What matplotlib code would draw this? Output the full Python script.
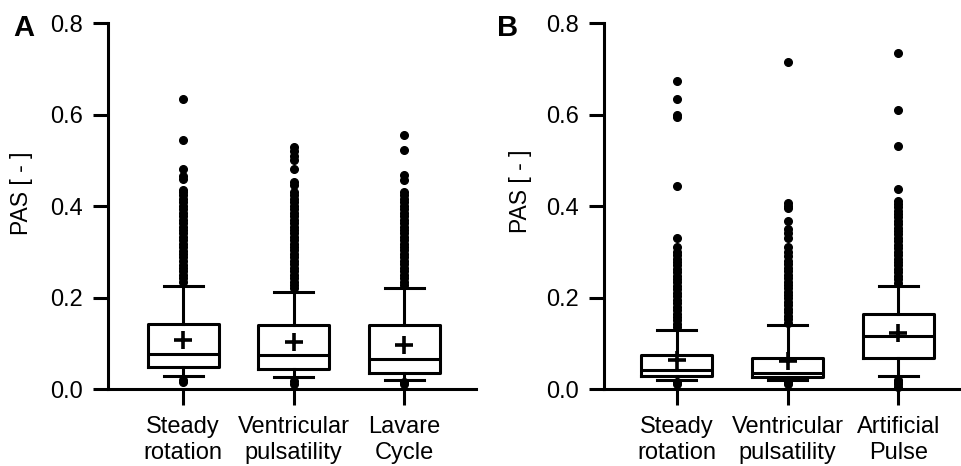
import numpy as np
import matplotlib
matplotlib.use('Agg')
import matplotlib.pyplot as plt

plt.rcParams['font.family'] = ['Liberation Sans', 'DejaVu Sans']

# panel A: box statistics
labels_a = ['Steady\nrotation', 'Ventricular\npulsatility', 'Lavare\nCycle']
med_a = [0.076, 0.074, 0.065]
q1_a = [0.049, 0.044, 0.036]
q3_a = [0.143, 0.141, 0.141]
lo_a = [0.028, 0.027, 0.020]
hi_a = [0.226, 0.211, 0.220]
mean_a = [0.107, 0.102, 0.096]
fliers_a = [
    [0.015, 0.019, 0.235, 0.242, 0.25, 0.258, 0.265, 0.272, 0.28, 0.288, 0.295, 0.302,
     0.31, 0.318, 0.325, 0.333, 0.34, 0.348, 0.355, 0.362, 0.37, 0.378, 0.385, 0.393,
     0.40, 0.408, 0.415, 0.423, 0.43, 0.436, 0.458, 0.465, 0.481, 0.544, 0.635],
    [0.012, 0.017, 0.22, 0.228, 0.235, 0.243, 0.25, 0.258, 0.265, 0.273, 0.28, 0.288,
     0.295, 0.303, 0.31, 0.318, 0.325, 0.333, 0.34, 0.348, 0.355, 0.363, 0.37, 0.378,
     0.385, 0.393, 0.40, 0.408, 0.415, 0.423, 0.43, 0.445, 0.452, 0.482, 0.50, 0.51,
     0.52, 0.53],
    [0.01, 0.015, 0.228, 0.235, 0.243, 0.25, 0.258, 0.265, 0.273, 0.28, 0.288, 0.295,
     0.303, 0.31, 0.318, 0.325, 0.333, 0.34, 0.348, 0.355, 0.363, 0.37, 0.378, 0.385,
     0.393, 0.40, 0.408, 0.415, 0.423, 0.43, 0.457, 0.468, 0.522, 0.555],
]

# panel B
labels_b = ['Steady\nrotation', 'Ventricular\npulsatility', 'Artificial\nPulse']
med_b = [0.041, 0.036, 0.116]
q1_b = [0.029, 0.026, 0.067]
q3_b = [0.074, 0.067, 0.163]
lo_b = [0.020, 0.019, 0.028]
hi_b = [0.129, 0.140, 0.225]
mean_b = [0.064, 0.062, 0.122]
fliers_b = [
    [0.012, 0.016, 0.135, 0.142, 0.15, 0.158, 0.165, 0.173, 0.18, 0.188, 0.195, 0.203,
     0.21, 0.218, 0.225, 0.233, 0.24, 0.248, 0.255, 0.263, 0.27, 0.278, 0.285, 0.293,
     0.30, 0.31, 0.331, 0.444, 0.595, 0.600, 0.633, 0.674],
    [0.012, 0.016, 0.145, 0.152, 0.16, 0.168, 0.175, 0.183, 0.19, 0.198, 0.205, 0.213,
     0.22, 0.228, 0.235, 0.243, 0.25, 0.258, 0.265, 0.273, 0.28, 0.29, 0.30, 0.31,
     0.33, 0.34, 0.35, 0.367, 0.395, 0.40, 0.406, 0.714],
    [0.005, 0.01, 0.015, 0.02, 0.232, 0.24, 0.248, 0.255, 0.263, 0.27, 0.278, 0.285,
     0.293, 0.30, 0.308, 0.315, 0.323, 0.33, 0.338, 0.345, 0.353, 0.36, 0.368, 0.375,
     0.383, 0.39, 0.398, 0.405, 0.41, 0.438, 0.532, 0.609, 0.734],
]


def make_stats(med, q1, q3, lo, hi, mean, fliers):
    out = []
    for i in range(len(med)):
        out.append(dict(med=med[i], q1=q1[i], q3=q3[i], whislo=lo[i], whishi=hi[i],
                        mean=mean[i], fliers=fliers[i]))
    return out


fig = plt.figure(figsize=(9.62, 4.66), dpi=100)
ax_a = fig.add_axes([0.1123, 0.1652, 0.3825, 0.7854])
ax_b = fig.add_axes([0.6279, 0.1652, 0.3721, 0.7854])

lw = 2.2
for ax, stats, labels, xlim, lab_x, lab_y in [
        (ax_a, make_stats(med_a, q1_a, q3_a, lo_a, hi_a, mean_a, fliers_a), labels_a,
         (0.32, 3.65), -0.204, 0.535),
        (ax_b, make_stats(med_b, q1_b, q3_b, lo_b, hi_b, mean_b, fliers_b), labels_b,
         (0.344, 3.575), -0.201, 0.541)]:
    ax.bxp(stats, positions=[1, 2, 3], widths=0.64, capwidths=0.35, showmeans=True,
           boxprops=dict(color='black', linewidth=lw),
           whiskerprops=dict(color='black', linewidth=lw),
           capprops=dict(color='black', linewidth=lw),
           medianprops=dict(color='black', linewidth=lw),
           meanprops=dict(marker='+', markersize=13, markeredgewidth=2.6,
                          markeredgecolor='black'),
           flierprops=dict(marker='o', markersize=5.5, markerfacecolor='black',
                           markeredgecolor='black', linestyle='none'))
    ax.set_xlim(*xlim)
    ax.set_ylim(0, 0.8)
    ax.set_yticks([0.0, 0.2, 0.4, 0.6, 0.8])
    ax.set_yticklabels(['0.0', '0.2', '0.4', '0.6', '0.8'])
    ax.set_xticks([1, 2, 3])
    ax.set_xticklabels(labels)
    for t in ax.get_xticklabels():
        t.set_linespacing(1.2)
    ax.spines['top'].set_visible(False)
    ax.spines['right'].set_visible(False)
    ax.spines['left'].set_linewidth(lw)
    ax.spines['bottom'].set_linewidth(lw)
    ax.tick_params(axis='y', direction='out', length=10.8, width=lw, pad=7, labelsize=17)
    ax.tick_params(axis='x', direction='out', length=11.5, width=lw, pad=8, labelsize=17)
    ax.set_ylabel('PAS [ - ]', fontsize=16.5)
    ax.yaxis.set_label_coords(lab_x, lab_y)
    for art in ax.lines:
        art.set_clip_on(False)

fig.text(13 / 962, 1 - 14 / 466, 'A', fontsize=21, fontweight='bold', ha='left', va='top')
fig.text(497 / 962, 1 - 14 / 466, 'B', fontsize=21, fontweight='bold', ha='left', va='top')

fig.savefig('out.png', dpi=100)
